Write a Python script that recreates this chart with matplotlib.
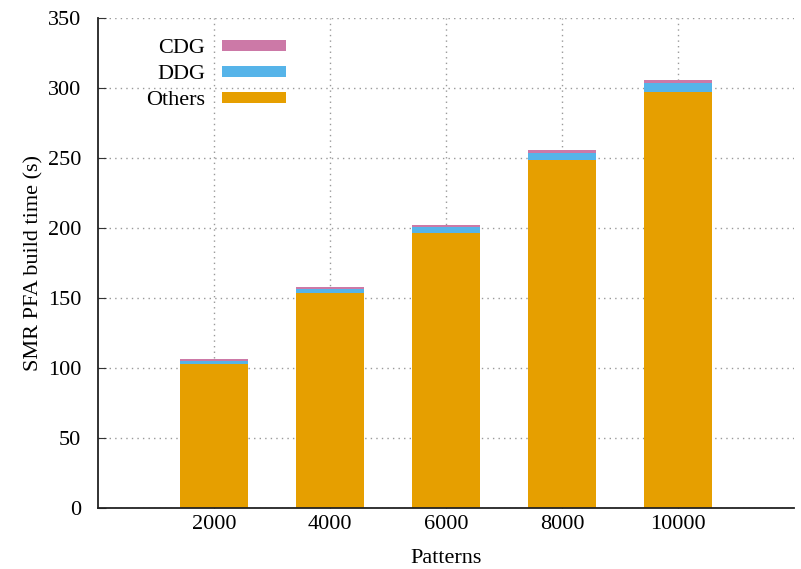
import numpy as np
import matplotlib.pyplot as plt

plt.rcParams['font.family'] = 'Liberation Serif'
plt.rcParams.update({'font.size': 16})

patterns = ["2000", "4000", "6000", "8000", "10000"]
others = [103, 153.5, 196.5, 248.5, 297]
ddg = [2.0, 3.0, 4.5, 5.5, 7.0]
cdg = [1.3, 1.4, 1.5, 1.6, 1.7]

col_cdg = "#cc79a7"
col_ddg = "#56b4e9"
col_oth = "#e69f00"

fig = plt.figure(figsize=[8.01, 5.69], dpi=100)
ax = fig.add_axes([0.1223, 0.107, 0.869, 0.861])

x = np.arange(1, len(patterns) + 1)
w = 0.58
b1 = ax.bar(x, others, w, color=col_oth, label="Others", zorder=2)
bottom2 = np.array(others)
b2 = ax.bar(x, ddg, w, bottom=bottom2, color=col_ddg, label="DDG", zorder=2)
bottom3 = bottom2 + np.array(ddg)
b3 = ax.bar(x, cdg, w, bottom=bottom3, color=col_cdg, label="CDG", zorder=2)

ax.set_xlim(0, 6)
ax.set_ylim(0, 350)
ax.set_xticks(x)
ax.set_xticklabels(patterns)
ax.set_yticks(np.arange(0, 351, 50))
ax.tick_params(direction="in", length=6, color="#333333")
ax.tick_params(axis="y", pad=12)
ax.tick_params(axis="x", pad=5)
ax.grid(True, linestyle=(0, (1, 3)), color="#999999", linewidth=1, zorder=0)
ax.set_axisbelow(True)
for s in ["top", "right"]:
    ax.spines[s].set_visible(False)
for s in ["left", "bottom"]:
    ax.spines[s].set_linewidth(1.3)
    ax.spines[s].set_color("#222222")

ax.set_xlabel("Patterns", labelpad=11)
ax.set_ylabel("SMR PFA build time (s)", labelpad=3)

ax.legend(handles=[b3, b2, b1], loc="upper left", markerfirst=False, frameon=False,
          handlelength=2.9, handleheight=0.4, handletextpad=0.75, labelspacing=0.32,
          bbox_to_anchor=(0.069, 0.957), borderaxespad=0, borderpad=0)

plt.savefig("out.png", dpi=100)
